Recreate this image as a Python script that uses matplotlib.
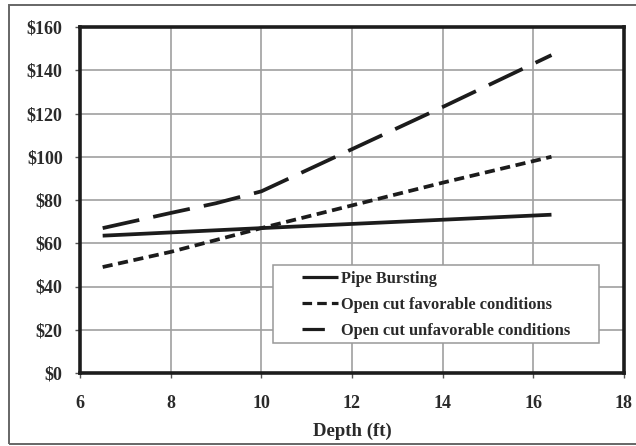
import matplotlib
matplotlib.use("Agg")
import matplotlib.pyplot as plt
from matplotlib.patches import Rectangle
from matplotlib.lines import Line2D

plt.rcParams['font.family'] = ['Liberation Serif', 'DejaVu Serif']
plt.rcParams['font.weight'] = 'bold'

depth_pb = [6.5, 10, 16.4]
cost_pb = [63.5, 67, 73.2]

depth_fav = [6.5, 8, 10, 12, 14, 16.4]
cost_fav = [49, 56, 67, 77.5, 88, 100]

depth_unf = [6.5, 8, 9, 10, 12, 14, 16.4]
cost_unf = [67, 74, 78.5, 84, 103.5, 123, 147]

series_labels = ["Pipe Bursting", "Open cut favorable conditions", "Open cut unfavorable conditions"]
x_ticks = [6, 8, 10, 12, 14, 16, 18]
y_ticks = [0, 20, 40, 60, 80, 100, 120, 140, 160]
y_ticklabels = ["$" + str(v) for v in y_ticks]

W, H = 636, 446
fig = plt.figure(figsize=(W / 100, H / 100), dpi=100)
fig.patch.set_facecolor('white')
fig.patches.append(Rectangle((9 / W, 1 - 444 / H), 640 / W, 439 / H, transform=fig.transFigure,
                             fill=False, edgecolor='#666666', linewidth=1.4, zorder=0))
ax_l, ax_r, ax_t, ax_b = 80, 624, 27, 373
ax = fig.add_axes([ax_l / W, 1 - ax_b / H, (ax_r - ax_l) / W, (ax_b - ax_t) / H])

lw = 2.7
ink = '#1c1c1c'
dash_fav = (2.7, 1.5)
dash_unf = (10.0, 3.8)
ax.plot(depth_pb, cost_pb, color=ink, lw=lw, solid_capstyle='butt')
ax.plot(depth_fav, cost_fav, color=ink, lw=lw, dashes=dash_fav)
ax.plot(depth_unf, cost_unf, color=ink, lw=lw, dashes=dash_unf)

ax.set_xlim(6, 18)
ax.set_ylim(0, 160)
ax.set_xticks(x_ticks)
ax.set_yticks(y_ticks)
ax.set_yticklabels(y_ticklabels)
ax.tick_params(axis='y', labelsize=13, direction='out', length=3.5, width=1, pad=9,
               colors='#555555', labelcolor='#2a2a2a')
ax.tick_params(axis='x', labelsize=13, direction='out', length=3.5, width=1, pad=12,
               colors='#555555', labelcolor='#2a2a2a')
ax.grid(True, color='#a0a0a0', linewidth=1.2)
ax.set_axisbelow(True)
for s in ax.spines.values():
    s.set_linewidth(2.6)
    s.set_color(ink)
ax.set_xlabel("Depth (ft)", fontsize=13.5, fontweight='bold', color='#2a2a2a', labelpad=8)

# legend frame (Excel-style, with wide inner margins)
lx0, ly0, lx1, ly1 = 273, 265, 599, 343
fig.patches.append(Rectangle((lx0 / W, 1 - ly1 / H), (lx1 - lx0) / W, (ly1 - ly0) / H,
                             transform=fig.transFigure, facecolor='white',
                             edgecolor='#999999', linewidth=1.1, zorder=5))

handles = [
    Line2D([], [], color=ink, lw=2.3, solid_capstyle='butt'),
    Line2D([], [], color=ink, lw=2.3, dashes=(3.0, 1.6)),
    Line2D([], [], color=ink, lw=2.3, dashes=(7.0, 20.0)),
]
leg = fig.legend(handles, series_labels, loc='upper left',
                 bbox_to_anchor=(302 / W, 1 - 271 / H),
                 fontsize=11.8, frameon=False, handlelength=2.2,
                 borderpad=0, labelspacing=0.6, handletextpad=0.2, borderaxespad=0)
leg.set_zorder(6)
for t in leg.get_texts():
    t.set_fontweight('bold')
    t.set_color('#2a2a2a')

fig.savefig("out.png", dpi=100)
